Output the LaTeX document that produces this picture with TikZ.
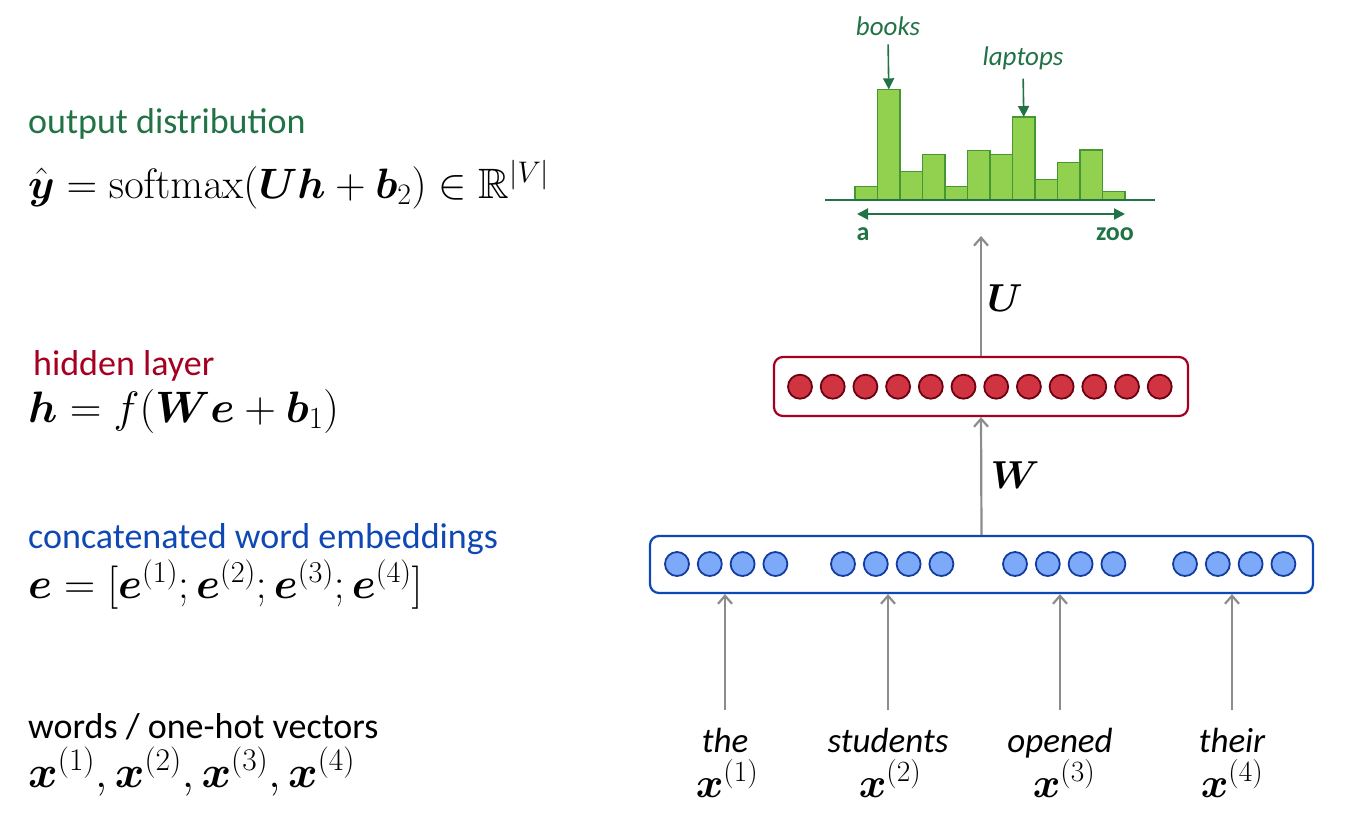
\RequirePackage{fix-cm}
\documentclass[tikz,border=0pt]{standalone}
\usepackage{amsmath, amssymb}
\usepackage[no-math]{fontspec}
\setmainfont{Carlito}
\usetikzlibrary{positioning, arrows.meta}
\definecolor{distgreen}{RGB}{33,115,70}
\definecolor{barfill}{RGB}{146,208,80}
\definecolor{barline}{RGB}{70,150,50}
\definecolor{hidred}{RGB}{165,0,33}
\definecolor{hidfill}{RGB}{208,52,64}
\definecolor{hiddark}{RGB}{110,0,20}
\definecolor{embblue}{RGB}{14,72,180}
\definecolor{embfill}{RGB}{125,170,248}
\definecolor{embdark}{RGB}{20,60,160}
\definecolor{arrowgray}{RGB}{140,140,140}
\tikzset{
x=1pt, y=-1pt, % one unit is one pixel of the slide, y runs downwards
lbl/.style={font=\fontsize{36}{42}\selectfont, anchor=base west, inner sep=0pt}, % layer names on the left
eqn/.style={font=\fontsize{#1}{50}\selectfont, anchor=base west, inner sep=0pt}, % the formula under each name
word/.style={font=\fontsize{35}{42}\selectfont\itshape, anchor=base, inner sep=0pt}, % input words
xvec/.style={font=\fontsize{42}{48}\selectfont, anchor=base, inner sep=0pt}, % one-hot vectors under the words
layerbox/.style={draw, rounded corners=9pt, line width=2.2pt, fill=white, inner sep=0pt}, % box round a layer
hidunit/.style={circle, draw=hiddark, fill=hidfill, line width=1.8pt, minimum size=24pt, inner sep=0pt},
embunit/.style={circle, draw=embdark, fill=embfill, line width=1.8pt, minimum size=24pt, inner sep=0pt},
feed/.style={draw=arrowgray, line width=2.2pt, -{Straight Barb[length=8pt, width=14pt]}}, % gray arrows between layers
pointer/.style={draw=distgreen, line width=1.6pt, shorten <=9pt, -{Triangle[length=11pt, width=11pt]}}, % arrows to the bars
bar/.style={draw=barline, fill=barfill, line width=1.4pt},
mtx/.style={font=\fontsize{39}{44}\selectfont, inner sep=0pt}, % weight matrix labels
}
\begin{document}
\begin{tikzpicture}
\useasboundingbox (0,0) rectangle (1356,828);

% left column
\node[lbl, text=distgreen] (outlbl) at (28,133) {output distribution};
\node[eqn=42.5] (outeq) at (28,198) {$\hat{\boldsymbol{y}} = \operatorname{softmax}(\boldsymbol{U}\boldsymbol{h} + \boldsymbol{b}_2) \in \mathbb{R}^{|V|}$};
\node[lbl, text=hidred] (hidlbl) at (33,375) {hidden layer};
\node[eqn=44] (hideq) at (28,422) {$\boldsymbol{h} = f(\boldsymbol{W}\boldsymbol{e} + \boldsymbol{b}_1)$};
\node[lbl, text=embblue] (emblbl) at (28,548) {concatenated word embeddings};
\node[eqn=43.3] (embeq) at (28,598) {$\boldsymbol{e} = [\boldsymbol{e}^{(1)}; \boldsymbol{e}^{(2)}; \boldsymbol{e}^{(3)}; \boldsymbol{e}^{(4)}]$};
\node[lbl] (wordlbl) at (28,738) {words / one-hot vectors};
\node[eqn=45] (wordeq) at (28,787) {$\boldsymbol{x}^{(1)}, \boldsymbol{x}^{(2)}, \boldsymbol{x}^{(3)}, \boldsymbol{x}^{(4)}$};

% output distribution
\foreach \i/\h in {0/13.3, 1/110.7, 2/28.3, 3/45.3, 4/13.3, 5/49.3, 6/45.3, 7/83, 8/20.3, 9/37.3, 10/50, 11/8.3}
  \draw[bar] (855+22.5*\i,200) rectangle ++(22.5,-\h);
\draw[distgreen, line width=2.6pt] (825,200) -- (1155,200);
\coordinate (axisL) at (857,214);
\coordinate (axisR) at (1125,214);
\draw[distgreen, line width=2pt, {Triangle[length=11pt, width=11pt]}-{Triangle[length=11pt, width=11pt]}] (axisL) -- (axisR);
\node[distgreen, font=\fontsize{26}{30}\selectfont\bfseries, anchor=base, inner sep=0pt] (first) at (863,240) {a};
\node[distgreen, font=\fontsize{26}{30}\selectfont\bfseries, anchor=base, inner sep=0pt] (last) at (1115,240) {zoo};
\node[distgreen, font=\fontsize{27}{30}\selectfont\itshape, anchor=base, inner sep=0pt] (books) at (888,35) {books};
\node[distgreen, font=\fontsize{27}{30}\selectfont\itshape, anchor=base, inner sep=0pt] (laptops) at (1023,65) {laptops};
\coordinate (bookstop) at (888.75,89.3);
\coordinate (laptopstop) at (1023.75,117);
\draw[pointer] (books.south) -- (bookstop);
\draw[pointer] (laptops.south) -- (laptopstop);

% hidden layer
\node[layerbox, draw=hidred, minimum width=414pt, minimum height=59pt] (hid) at (981,386.5) {};
\foreach \k in {1,...,12}
  \node[hidunit] (h\k) at (800+32.7*\k-32.7,386.7) {};

% embeddings
\node[layerbox, draw=embblue, minimum width=663pt, minimum height=57pt] (emb) at (981.5,564.5) {};
\foreach \g/\gx in {1/677, 2/843, 3/1015, 4/1185}
  \foreach \k in {0,...,3}
    \node[embunit] (e\g\k) at (\gx+32.8*\k,564) {};

% words
\node[word] (w1) at (725,752) {the};
\node[word] (w2) at (888,752) {students};
\node[word] (w3) at (1060,752) {opened};
\node[word] (w4) at (1232,752) {their};
\node[xvec] (x1) at (727,797) {$\boldsymbol{x}^{(1)}$};
\node[xvec] (x2) at (890,797) {$\boldsymbol{x}^{(2)}$};
\node[xvec] (x3) at (1064,797) {$\boldsymbol{x}^{(3)}$};
\node[xvec] (x4) at (1232,797) {$\boldsymbol{x}^{(4)}$};

% arrows between the layers
\coordinate (outbase) at (981,236);
\draw[feed] (hid.north) -- (outbase);
\draw[feed] (emb.north) -- (hid.south);
\draw[feed, shorten <=18pt] (w1.north) -- (w1.north |- emb.south);
\draw[feed, shorten <=18pt] (w2.north) -- (w2.north |- emb.south);
\draw[feed, shorten <=18pt] (w3.north) -- (w3.north |- emb.south);
\draw[feed, shorten <=18pt] (w4.north) -- (w4.north |- emb.south);
\node[mtx] (U) at (1005,298) {$\boldsymbol{U}$};
\node[mtx] (W) at (1015,475) {$\boldsymbol{W}$};
\end{tikzpicture}
\end{document}
